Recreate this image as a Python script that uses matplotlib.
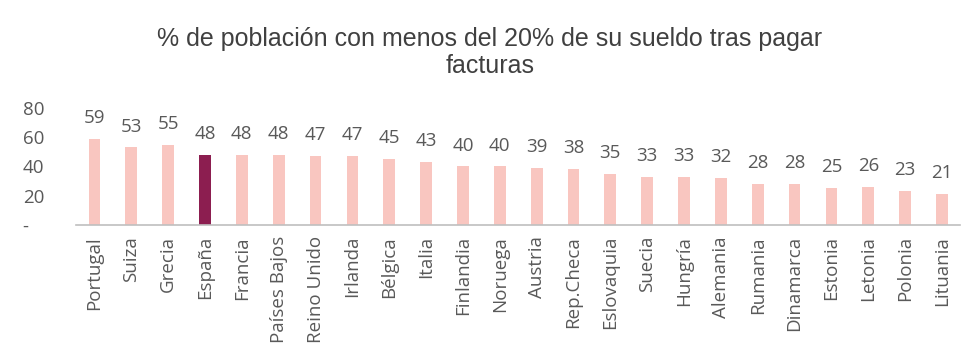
import matplotlib
matplotlib.use("Agg")
import matplotlib.pyplot as plt
import numpy as np

countries = ["Portugal", "Suiza", "Grecia", "España", "Francia", "Países Bajos",
             "Reino Unido", "Irlanda", "Bélgica", "Italia", "Finlandia", "Noruega",
             "Austria", "Rep.Checa", "Eslovaquia", "Suecia", "Hungría", "Alemania",
             "Rumania", "Dinamarca", "Estonia", "Letonia", "Polonia", "Lituania"]
values = [59, 53, 55, 48, 48, 48, 47, 47, 45, 43, 40, 40, 39, 38, 35, 33, 33, 32,
          28, 28, 25, 26, 23, 21]
highlight = "España"
yticks = [0, 20, 40, 60, 80]
ytick_labels = ["-   ", "20", "40", "60", "80"]
title = "% de población con menos del 20% de su sueldo tras pagar\nfacturas"

light = "#f9c6c0"
dark = "#8c1e50"
gray = "#595959"

fig = plt.figure(figsize=(9.8, 3.64), dpi=100)
ax = fig.add_axes([0.0776, 0.3819, 0.9024, 0.3214])
x = np.arange(len(countries))
colors = [dark if c == highlight else light for c in countries]
ax.bar(x, values, width=0.32, color=colors)
for xi, v in zip(x, values):
    ax.annotate(str(v), (xi, v), xytext=(0, 11.5), textcoords="offset points",
                ha="center", va="baseline", fontsize=13.5, color=gray,
                family="Open Sans", annotation_clip=False)
ax.set_xlim(-0.5, len(countries) - 0.5)
ax.set_ylim(0, 80)
ax.set_yticks(yticks)
ax.set_yticklabels(ytick_labels, fontsize=13.5, color=gray, family="Open Sans")
ax.set_xticks(x)
ax.set_xticklabels(countries, rotation=90, fontsize=13.5, color=gray, family="Open Sans")
ax.tick_params(axis="both", length=0)
ax.tick_params(axis="y", pad=23)
ax.tick_params(axis="x", pad=8)
for s in ["top", "right", "left"]:
    ax.spines[s].set_visible(False)
ax.spines["bottom"].set_color("#bfbfbf")
ax.spines["bottom"].set_linewidth(1.2)
fig.text(0.5, 0.925, title, ha="center", va="top", fontsize=18, color="#404040",
         family="Liberation Sans", linespacing=1.15)
fig.savefig("out.png", dpi=100)
